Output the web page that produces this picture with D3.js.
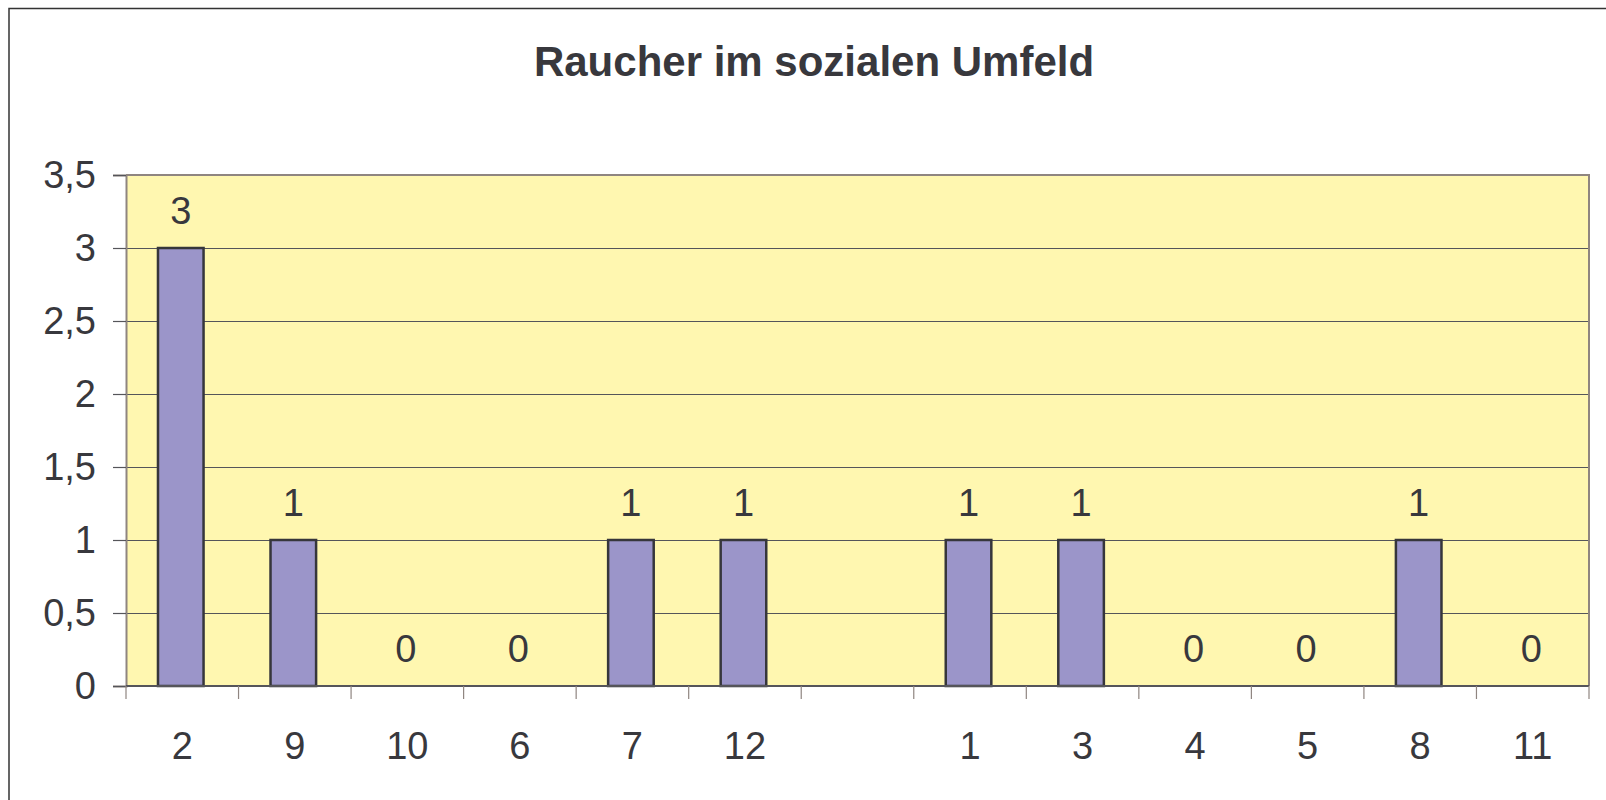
<!DOCTYPE html>
<html>
<head>
<meta charset="utf-8">
<script src="https://cdn.jsdelivr.net/npm/d3@7"></script>
<style>
  html, body { margin: 0; padding: 0; background: #fff; overflow: hidden; }
  svg { display: block; font-family: "Liberation Sans", Arial, Helvetica, sans-serif; }
</style>
</head>
<body>
<svg id="chart" width="1606" height="800"></svg>
<script>
// data
var categories = ["2", "9", "10", "6", "7", "12", "", "1", "3", "4", "5", "8", "11"];
var values = [3, 1, 0, 0, 1, 1, null, 1, 1, 0, 0, 1, 0];
var yTicks = [0, 0.5, 1, 1.5, 2, 2.5, 3, 3.5];
var title = "Raucher im sozialen Umfeld";

var svg = d3.select("#chart");
var plot = { left: 126, top: 175, right: 1589, bottom: 686 };
var textColor = "#38383d";

// german decimal comma
var de = d3.formatLocale({ decimal: ",", thousands: ".", grouping: [3], currency: ["", " €"] });
var fmt = de.format("~g");

var idx = d3.range(categories.length);
var x = d3.scaleBand()
  .domain(idx)
  .range([plot.left, plot.right])
  .paddingInner(0.595)
  .paddingOuter(0.2975);
var y = d3.scaleLinear().domain([0, 3.5]).range([plot.bottom, plot.top]);

// outer frame (runs past the right/bottom edges)
svg.append("rect")
  .attr("x", 9).attr("y", 8.5)
  .attr("width", 1700).attr("height", 900)
  .attr("fill", "#fff")
  .attr("stroke", "#333")
  .attr("stroke-width", 1.5);

svg.append("text")
  .attr("x", 814).attr("y", 76)
  .attr("text-anchor", "middle")
  .attr("font-size", 42)
  .attr("font-weight", "bold")
  .attr("fill", textColor)
  .text(title);

// plot background
svg.append("rect")
  .attr("x", plot.left).attr("y", plot.top)
  .attr("width", plot.right - plot.left).attr("height", plot.bottom - plot.top)
  .attr("fill", "#fff7b0");

// gridlines
svg.append("g").selectAll("line")
  .data(yTicks.filter(function(d) { return d > 0 && d < 3.5; }))
  .enter().append("line")
  .attr("x1", plot.left).attr("x2", plot.right)
  .attr("y1", function(d) { return Math.round(y(d)) + 0.5; })
  .attr("y2", function(d) { return Math.round(y(d)) + 0.5; })
  .attr("stroke", "#55555a").attr("stroke-width", 1.2);

// top + right border of plot area
svg.append("path")
  .attr("d", "M" + plot.left + "," + plot.top + "H" + plot.right + "V" + plot.bottom)
  .attr("fill", "none").attr("stroke", "#8f8580").attr("stroke-width", 2);

// bars
svg.append("g").selectAll("rect")
  .data(idx.filter(function(i) { return values[i] != null && values[i] > 0; }))
  .enter().append("rect")
  .attr("x", function(i) { return x(i) - 1.5; })
  .attr("y", function(i) { return y(values[i]); })
  .attr("width", x.bandwidth())
  .attr("height", function(i) { return y(0) - y(values[i]); })
  .attr("fill", "#9b95c9")
  .attr("stroke", "#36363b")
  .attr("stroke-width", 2.5);

// value labels
svg.append("g").selectAll("text")
  .data(idx.filter(function(i) { return values[i] != null; }))
  .enter().append("text")
  .attr("x", function(i) { return x(i) + x.bandwidth() / 2 - 1.5; })
  .attr("y", function(i) { return y(values[i]) - 24; })
  .attr("text-anchor", "middle")
  .attr("font-size", 38)
  .attr("fill", textColor)
  .text(function(i) { return fmt(values[i]); });

// y axis
var yAxis = svg.append("g")
  .attr("transform", "translate(" + plot.left + ",0)")
  .call(d3.axisLeft(y).tickValues(yTicks).tickSize(13).tickPadding(17).tickFormat(fmt));
yAxis.select(".domain").attr("stroke", "#8f8580").attr("stroke-width", 2);
yAxis.selectAll(".tick line").attr("stroke", "#55555a").attr("stroke-width", 1.2);
yAxis.selectAll(".tick text")
  .attr("font-size", 38)
  .attr("font-family", "Liberation Sans, Arial, sans-serif")
  .attr("fill", textColor);

// x axis: line, ticks at category boundaries, labels at centres
var step = x.step();
var bounds = d3.range(categories.length + 1).map(function(k) { return plot.left + k * step; });
var xg = svg.append("g");
xg.append("line")
  .attr("x1", plot.left).attr("x2", plot.right)
  .attr("y1", plot.bottom).attr("y2", plot.bottom)
  .attr("stroke", "#55555a").attr("stroke-width", 2);
xg.selectAll("line.tk")
  .data(bounds)
  .enter().append("line").attr("class", "tk")
  .attr("x1", function(d) { return d; }).attr("x2", function(d) { return d; })
  .attr("y1", plot.bottom).attr("y2", plot.bottom + 13)
  .attr("stroke", "#8f8580").attr("stroke-width", 1.2);
xg.selectAll("text")
  .data(idx)
  .enter().append("text")
  .attr("x", function(i) { return x(i) + x.bandwidth() / 2; })
  .attr("y", 759)
  .attr("text-anchor", "middle")
  .attr("font-size", 38)
  .attr("fill", textColor)
  .text(function(i) { return categories[i]; });
</script>
</body>
</html>
